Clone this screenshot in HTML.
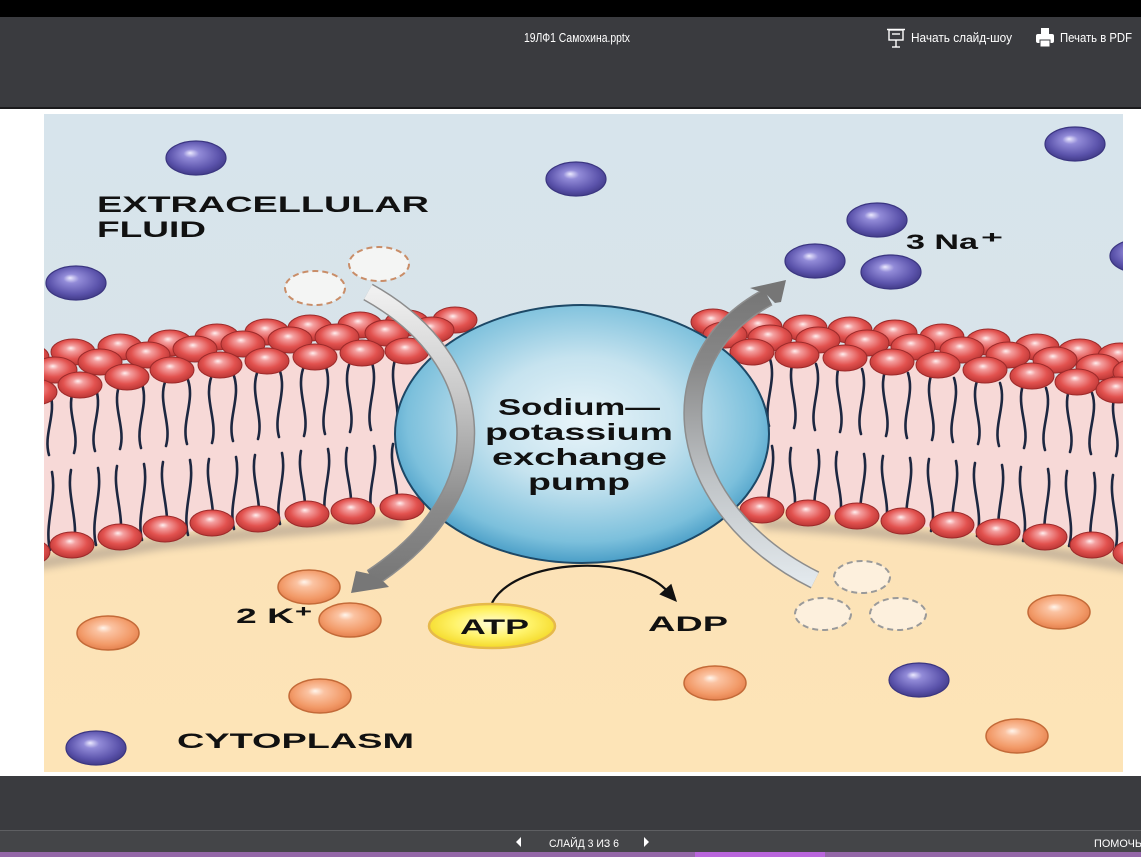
<!DOCTYPE html>
<html><head><meta charset="utf-8"><style>
html,body{margin:0;padding:0;background:#fff;}
svg{display:block;}
</style></head><body>
<svg width="1141" height="857" viewBox="0 0 1141 857" xmlns="http://www.w3.org/2000/svg">
<defs>
<clipPath id="slide"><rect x="44" y="114" width="1079" height="658"/></clipPath>
<linearGradient id="bg" x1="0" y1="114" x2="0" y2="772" gradientUnits="userSpaceOnUse">
<stop offset="0" stop-color="#d7e4ec"/><stop offset="0.45" stop-color="#d8e3e9"/><stop offset="0.6" stop-color="#fce2b7"/><stop offset="1" stop-color="#fde4b7"/>
</linearGradient>
<radialGradient id="gHead" cx="0.5" cy="0.45" r="0.6" fx="0.45" fy="0.35">
<stop offset="0" stop-color="#fff0f0"/><stop offset="0.2" stop-color="#f4a0a0"/><stop offset="0.6" stop-color="#e2524f"/><stop offset="1" stop-color="#b3302f"/>
</radialGradient>
<radialGradient id="gNa" cx="0.5" cy="0.45" r="0.6" fx="0.4" fy="0.35">
<stop offset="0" stop-color="#eceaff"/><stop offset="0.22" stop-color="#928bd8"/><stop offset="0.7" stop-color="#5b53ab"/><stop offset="1" stop-color="#3b357f"/>
</radialGradient>
<radialGradient id="gK" cx="0.5" cy="0.45" r="0.6" fx="0.42" fy="0.35">
<stop offset="0" stop-color="#fff5ec"/><stop offset="0.22" stop-color="#fbc3a2"/><stop offset="0.7" stop-color="#f29a68"/><stop offset="1" stop-color="#e07a48"/>
</radialGradient>
<radialGradient id="gPump" cx="0.5" cy="0.45" r="0.55">
<stop offset="0" stop-color="#e8f4f9"/><stop offset="0.45" stop-color="#c6e3ef"/><stop offset="0.85" stop-color="#7cc0dc"/><stop offset="1" stop-color="#4a9ec7"/>
</radialGradient>
<radialGradient id="gATP" cx="0.5" cy="0.45" r="0.6">
<stop offset="0" stop-color="#fffcd8"/><stop offset="0.5" stop-color="#fff36a"/><stop offset="1" stop-color="#f2d41a"/>
</radialGradient>
<linearGradient id="gArL" x1="0" y1="292" x2="0" y2="580" gradientUnits="userSpaceOnUse">
<stop offset="0" stop-color="#f0f0f0"/><stop offset="0.35" stop-color="#c9c9c9"/><stop offset="0.75" stop-color="#8a8a8a"/><stop offset="1" stop-color="#777"/>
</linearGradient>
<linearGradient id="gArR" x1="0" y1="580" x2="0" y2="292" gradientUnits="userSpaceOnUse">
<stop offset="0" stop-color="#e2e8ec"/><stop offset="0.35" stop-color="#bfc3c6"/><stop offset="0.75" stop-color="#888"/><stop offset="1" stop-color="#767676"/>
</linearGradient>
<filter id="blur" x="-10%" y="-50%" width="120%" height="200%"><feGaussianBlur stdDeviation="4"/></filter>
<g id="h"><ellipse rx="22" ry="13" fill="url(#gHead)" stroke="#9b2a2a" stroke-width="1"/></g>
<g id="na"><ellipse rx="30" ry="17" fill="url(#gNa)" stroke="#3a3580" stroke-width="1.2"/></g>
<g id="k"><ellipse rx="31" ry="17" fill="url(#gK)" stroke="#c36a38" stroke-width="1.5"/></g>
</defs>

<!-- top chrome -->
<rect x="0" y="0" width="1141" height="17" fill="#000"/>
<rect x="0" y="17" width="1141" height="91" fill="#3a3b3f"/>
<rect x="0" y="107" width="1141" height="2" fill="#1a1a1c"/>
<text x="524" y="42" font-family="Liberation Sans, sans-serif" font-size="13" fill="#fff" textLength="106" lengthAdjust="spacingAndGlyphs">19ЛФ1 Самохина.pptx</text>
<!-- projector icon -->
<g stroke="#fff" stroke-width="1.4" fill="none">
<line x1="887" y1="29.5" x2="905" y2="29.5"/>
<rect x="889" y="30" width="14" height="10"/>
<line x1="892" y1="34" x2="900" y2="34"/>
<line x1="896" y1="40" x2="896" y2="47"/>
<line x1="892" y1="47" x2="900" y2="47"/>
</g>
<text x="911" y="42" font-family="Liberation Sans, sans-serif" font-size="13" fill="#fff" textLength="101" lengthAdjust="spacingAndGlyphs">Начать слайд-шоу</text>
<!-- printer icon -->
<g fill="#fff">
<rect x="1041" y="28" width="8" height="6"/>
<rect x="1036" y="34" width="18" height="9" rx="2"/>
<rect x="1040" y="40" width="10" height="7" fill="#fff" stroke="#3a3b3f" stroke-width="1"/>
</g>
<text x="1060" y="42" font-family="Liberation Sans, sans-serif" font-size="13" fill="#fff" textLength="72" lengthAdjust="spacingAndGlyphs">Печать в PDF</text>

<!-- slide -->
<g clip-path="url(#slide)">
<rect x="44" y="114" width="1079" height="658" fill="url(#bg)"/>
<!-- shadow under lower heads -->
<path d="M30 565 L72 558 L165 543 L258 533 L353 525 L402 520 M762 523 L857 530 L952 540 L1045 552 L1135 567" stroke="#8a7f7a" stroke-width="12" fill="none" opacity="0.45" filter="url(#blur)"/>
<!-- pink interior -->
<polygon points="44,375 100,372 407,343 450,338 720,338 760,345 1123,385 1123,556 1092,548 762,506 402,504 72,547 44,553" fill="#f7d9d7"/>
<!-- tails -->
<g stroke="#1d2740" stroke-width="2.6" fill="none" stroke-linecap="round">
<path d="M50 393 C57 414 43 434 49 455"/><path d="M73 391 C66 412 80 432 74 453"/><path d="M96 389 C103 410 89 430 95 451"/><path d="M119 386 C112 407 126 428 120 449"/><path d="M142 384 C149 405 135 426 141 448"/><path d="M165 382 C158 403 172 424 166 446"/><path d="M188 380 C195 401 181 422 187 444"/><path d="M211 378 C204 400 218 421 212 443"/><path d="M234 376 C241 398 227 419 233 441"/><path d="M257 373 C250 395 264 417 258 439"/><path d="M280 371 C287 393 273 415 279 437"/><path d="M303 369 C296 391 310 414 304 436"/><path d="M326 367 C333 389 319 412 325 434"/><path d="M349 365 C342 387 356 410 350 432"/><path d="M372 363 C379 385 365 408 371 430"/><path d="M395 360 C388 383 402 406 396 429"/>
<path d="M50 550 C44 524 57 498 52 472"/><path d="M73 548 C80 522 66 496 71 470"/><path d="M96 545 C90 519 103 494 98 468"/><path d="M119 542 C126 517 112 491 117 466"/><path d="M142 540 C136 515 149 489 144 464"/><path d="M165 537 C172 512 158 487 163 462"/><path d="M188 535 C182 510 195 485 190 460"/><path d="M211 532 C218 508 204 483 209 459"/><path d="M234 529 C228 505 241 481 236 457"/><path d="M257 527 C264 503 250 479 255 455"/><path d="M280 524 C274 500 287 477 282 453"/><path d="M303 521 C310 498 296 474 301 451"/><path d="M326 519 C320 496 333 472 328 449"/><path d="M349 516 C356 493 342 471 347 448"/><path d="M372 513 C366 491 379 468 374 446"/><path d="M395 511 C402 489 388 466 393 444"/>
<path d="M770 359 C777 381 763 404 769 426"/><path d="M793 361 C786 383 800 406 794 428"/><path d="M816 364 C823 386 809 408 815 430"/><path d="M839 366 C832 388 846 410 840 432"/><path d="M862 369 C869 391 855 412 861 434"/><path d="M885 371 C878 393 892 414 886 436"/><path d="M908 373 C915 395 901 416 907 438"/><path d="M931 376 C924 397 938 419 932 440"/><path d="M954 378 C961 399 947 421 953 442"/><path d="M977 381 C970 402 984 423 978 444"/><path d="M1000 383 C1007 404 993 425 999 446"/><path d="M1023 385 C1016 406 1030 427 1024 448"/><path d="M1046 388 C1053 409 1039 429 1045 450"/><path d="M1069 390 C1062 411 1076 431 1070 452"/><path d="M1092 393 C1099 413 1085 434 1091 454"/><path d="M1115 395 C1108 415 1122 436 1116 456"/>
<path d="M770 513 C764 491 777 468 772 446"/><path d="M793 515 C800 493 786 470 791 448"/><path d="M816 518 C810 495 823 473 818 450"/><path d="M839 520 C846 497 832 475 837 452"/><path d="M862 523 C856 500 869 477 864 454"/><path d="M885 526 C892 503 878 479 883 456"/><path d="M908 528 C902 505 915 481 910 458"/><path d="M931 531 C938 507 924 483 929 459"/><path d="M954 533 C948 509 961 485 956 461"/><path d="M977 536 C984 512 970 487 975 463"/><path d="M1000 538 C994 514 1007 489 1002 465"/><path d="M1023 541 C1030 516 1016 492 1021 467"/><path d="M1046 543 C1040 518 1053 494 1048 469"/><path d="M1069 546 C1076 521 1062 496 1067 471"/><path d="M1092 548 C1086 523 1099 498 1094 473"/><path d="M1115 551 C1122 526 1108 500 1113 475"/>
</g>
<!-- left upper heads: back row -->
<use href="#h" x="27" y="357"/><use href="#h" x="73" y="352"/><use href="#h" x="120" y="347"/><use href="#h" x="170" y="343"/><use href="#h" x="217" y="337"/><use href="#h" x="267" y="332"/><use href="#h" x="310" y="328"/><use href="#h" x="360" y="325"/><use href="#h" x="407" y="323"/><use href="#h" x="455" y="320"/>
<!-- row 2 -->
<use href="#h" x="55" y="370"/><use href="#h" x="100" y="362"/><use href="#h" x="148" y="355"/><use href="#h" x="195" y="349"/><use href="#h" x="243" y="344"/><use href="#h" x="290" y="340"/><use href="#h" x="337" y="337"/><use href="#h" x="387" y="333"/><use href="#h" x="432" y="330"/>
<!-- front row -->
<use href="#h" x="35" y="392"/><use href="#h" x="80" y="385"/><use href="#h" x="127" y="377"/><use href="#h" x="172" y="370"/><use href="#h" x="220" y="365"/><use href="#h" x="267" y="361"/><use href="#h" x="315" y="357"/><use href="#h" x="362" y="353"/><use href="#h" x="407" y="351"/>
<!-- left lower -->
<use href="#h" x="28" y="552"/><use href="#h" x="72" y="545"/><use href="#h" x="120" y="537"/><use href="#h" x="165" y="529"/><use href="#h" x="212" y="523"/><use href="#h" x="258" y="519"/><use href="#h" x="307" y="514"/><use href="#h" x="353" y="511"/><use href="#h" x="402" y="507"/>
<!-- right upper back -->
<use href="#h" x="713" y="322"/><use href="#h" x="760" y="327"/><use href="#h" x="805" y="328"/><use href="#h" x="850" y="330"/><use href="#h" x="895" y="333"/><use href="#h" x="942" y="337"/><use href="#h" x="988" y="342"/><use href="#h" x="1037" y="347"/><use href="#h" x="1080" y="352"/><use href="#h" x="1120" y="356"/>
<use href="#h" x="725" y="335"/><use href="#h" x="770" y="338"/><use href="#h" x="818" y="340"/><use href="#h" x="867" y="343"/><use href="#h" x="913" y="347"/><use href="#h" x="962" y="350"/><use href="#h" x="1008" y="355"/><use href="#h" x="1055" y="360"/><use href="#h" x="1098" y="367"/><use href="#h" x="1135" y="372"/>
<use href="#h" x="752" y="352"/><use href="#h" x="797" y="355"/><use href="#h" x="845" y="358"/><use href="#h" x="892" y="362"/><use href="#h" x="938" y="365"/><use href="#h" x="985" y="370"/><use href="#h" x="1032" y="376"/><use href="#h" x="1077" y="382"/><use href="#h" x="1118" y="390"/>
<!-- right lower -->
<use href="#h" x="762" y="510"/><use href="#h" x="808" y="513"/><use href="#h" x="857" y="516"/><use href="#h" x="903" y="521"/><use href="#h" x="952" y="525"/><use href="#h" x="998" y="532"/><use href="#h" x="1045" y="537"/><use href="#h" x="1092" y="545"/><use href="#h" x="1135" y="553"/>

<!-- pump -->
<ellipse cx="582" cy="434" rx="187" ry="129" fill="url(#gPump)" stroke="#1d4866" stroke-width="2"/>
<g font-family="Liberation Sans, Arial, sans-serif" font-weight="bold" font-size="23" fill="#111">
<text x="498" y="415" textLength="162" lengthAdjust="spacingAndGlyphs">Sodium—</text>
<text x="485" y="440" textLength="188" lengthAdjust="spacingAndGlyphs">potassium</text>
<text x="492" y="465" textLength="175" lengthAdjust="spacingAndGlyphs">exchange</text>
<text x="528" y="490" textLength="102" lengthAdjust="spacingAndGlyphs">pump</text>
</g>

<!-- left arrow -->
<path d="M368 292 C 490 360 505 490 372 578" stroke="#8d8d8d" stroke-width="19" fill="none"/>
<path d="M368 292 C 490 360 505 490 372 578" stroke="url(#gArL)" stroke-width="16" fill="none"/>
<polygon points="351,593 356,571 370,574 384,582 389,587" fill="#777"/>
<!-- right arrow -->
<path d="M815 580 C 675 510 650 360 768 297" stroke="#8d8d8d" stroke-width="19" fill="none"/>
<path d="M815 580 C 675 510 650 360 768 297" stroke="url(#gArR)" stroke-width="16" fill="none"/>
<polygon points="786,280 750,288 766,294 775,303 781,302" fill="#767676"/>

<!-- Na ions -->
<use href="#na" x="196" y="158"/><use href="#na" x="576" y="179"/><use href="#na" x="1075" y="144"/><use href="#na" x="877" y="220"/><use href="#na" x="76" y="283"/><use href="#na" x="815" y="261"/><use href="#na" x="891" y="272"/><use href="#na" x="1140" y="256"/><use href="#na" x="919" y="680"/><use href="#na" x="96" y="748"/>
<!-- K ions -->
<use href="#k" x="309" y="587"/><use href="#k" x="350" y="620"/><use href="#k" x="108" y="633"/><use href="#k" x="320" y="696"/><use href="#k" x="715" y="683"/><use href="#k" x="1059" y="612"/><use href="#k" x="1017" y="736"/>
<!-- dashed empty sites -->
<g stroke-width="2" stroke-dasharray="6 4">
<ellipse cx="315" cy="288" rx="30" ry="17" fill="#f4f5f4" stroke="#c98d68"/>
<ellipse cx="379" cy="264" rx="30" ry="17" fill="#f4f5f4" stroke="#c98d68"/>
<ellipse cx="862" cy="577" rx="28" ry="16" fill="#fdf0dd" stroke="#9a9a9a"/>
<ellipse cx="823" cy="614" rx="28" ry="16" fill="#fdf0dd" stroke="#9a9a9a"/>
<ellipse cx="898" cy="614" rx="28" ry="16" fill="#fdf0dd" stroke="#9a9a9a"/>
</g>

<!-- ATP -> ADP -->
<path d="M492 603 C 515 558 635 553 668 592" stroke="#111" stroke-width="2.2" fill="none"/>
<polygon points="677,602 671.3,583.8 659.3,594.4" fill="#111"/>
<ellipse cx="492" cy="626" rx="63" ry="22" fill="url(#gATP)" stroke="#e6b94a" stroke-width="2.5"/>

<g font-family="Liberation Sans, Arial, sans-serif" font-weight="bold" fill="#111">
<text x="97" y="212" font-size="22" textLength="332" lengthAdjust="spacingAndGlyphs">EXTRACELLULAR</text>
<text x="97" y="237" font-size="22" textLength="109" lengthAdjust="spacingAndGlyphs">FLUID</text>
<text x="906" y="249" font-size="21" textLength="72" lengthAdjust="spacingAndGlyphs">3 Na</text>
<text x="981" y="243" font-size="17" textLength="22" lengthAdjust="spacingAndGlyphs">+</text>
<text x="236" y="623" font-size="21" textLength="58" lengthAdjust="spacingAndGlyphs">2 K</text>
<text x="295" y="617" font-size="17" textLength="17" lengthAdjust="spacingAndGlyphs">+</text>
<text x="460" y="634" font-size="21" textLength="69" lengthAdjust="spacingAndGlyphs">ATP</text>
<text x="648" y="631" font-size="21" textLength="80" lengthAdjust="spacingAndGlyphs">ADP</text>
<text x="177" y="748" font-size="21" textLength="237" lengthAdjust="spacingAndGlyphs">CYTOPLASM</text>
</g>
</g>

<!-- bottom chrome -->
<rect x="0" y="776" width="1141" height="54" fill="#3a3b3f"/>
<rect x="0" y="830" width="1141" height="22" fill="#444548"/>
<rect x="0" y="830" width="1141" height="1" fill="#5e5f62"/>
<rect x="0" y="852" width="1141" height="5" fill="#9467a8"/>
<rect x="695" y="852" width="130" height="5" fill="#b966dc"/>
<polygon points="521,837 516,842 521,847" fill="#fff"/>
<polygon points="644,837 649,842 644,847" fill="#fff"/>
<text x="549" y="847" font-family="Liberation Sans, sans-serif" font-size="11" fill="#fff" textLength="70" lengthAdjust="spacingAndGlyphs">СЛАЙД 3 ИЗ 6</text>
<text x="1094" y="847" font-family="Liberation Sans, sans-serif" font-size="11" fill="#fff" textLength="48" lengthAdjust="spacingAndGlyphs">ПОМОЧЬ</text>
</svg>
</body></html>
